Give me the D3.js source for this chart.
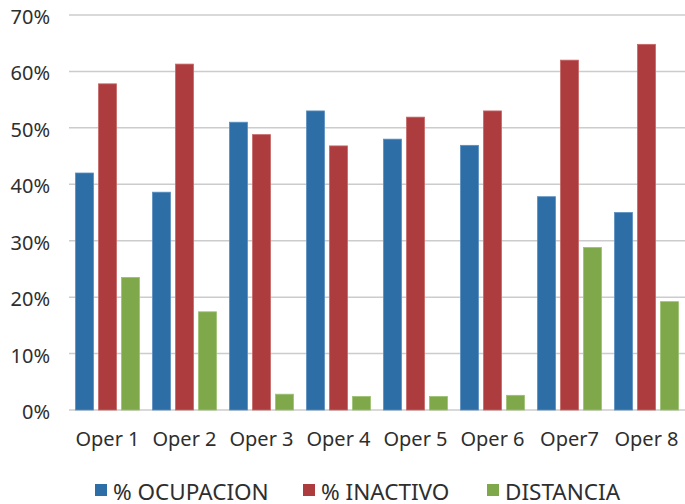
<!DOCTYPE html>
<html>
<head>
<meta charset="utf-8">
<script src="https://cdn.jsdelivr.net/npm/d3@7"></script>
<style>
  body { margin: 0; background: #fff; }
  text { font-family: "Noto Sans", sans-serif; fill: #2e2e2e; }
</style>
</head>
<body>
<div id="chart"></div>
<script>
const operators = ["Oper 1", "Oper 2", "Oper 3", "Oper 4", "Oper 5", "Oper 6", "Oper7", "Oper 8"];
const seriesNames = ["% OCUPACION", "% INACTIVO", "DISTANCIA"];
const ocupacion = [0.42, 0.386, 0.51, 0.53, 0.48, 0.469, 0.378, 0.35];
const inactivo = [0.578, 0.613, 0.488, 0.468, 0.519, 0.53, 0.62, 0.648];
const distancia = [0.235, 0.174, 0.028, 0.024, 0.024, 0.026, 0.288, 0.192];
const yTicks = [0, 0.1, 0.2, 0.3, 0.4, 0.5, 0.6, 0.7];
const colors = ["#2d6ea7", "#ad3c3e", "#7fa84b"];
const strokes = ["#5b8fc0", "#c76668", "#9cc072"];

const width = 685;
const height = 504;
const margin = { top: 15, right: 0, bottom: 94, left: 69 };

const svg = d3.select("#chart")
  .append("svg")
  .attr("width", width)
  .attr("height", height);

const values = [ocupacion, inactivo, distancia];
const rows = operators.map((op, i) => ({
  op: op,
  vals: values.map((arr, s) => ({ key: seriesNames[s], s: s, v: arr[i] }))
}));

const x0 = d3.scaleBand()
  .domain(operators)
  .range([margin.left, width - margin.right])
  .padding(0);

const groupPad = 6.5;
const x1 = d3.scaleBand()
  .domain(d3.range(3))
  .range([groupPad, x0.bandwidth() - groupPad])
  .paddingInner(5 / 23);

const y = d3.scaleLinear()
  .domain([0, 0.7])
  .range([height - margin.bottom, margin.top]);

// gridlines
svg.append("g")
  .selectAll("line")
  .data(yTicks)
  .join("line")
  .attr("x1", margin.left)
  .attr("x2", width - margin.right)
  .attr("y1", d => y(d))
  .attr("y2", d => y(d))
  .attr("stroke", "#cccccc")
  .attr("stroke-width", 1.5);

// y labels
svg.append("g")
  .selectAll("text")
  .data(yTicks)
  .join("text")
  .attr("x", 50)
  .attr("y", d => y(d) + 2)
  .attr("dy", "0.35em")
  .attr("text-anchor", "end")
  .style("font-size", "20px")
  .text(d => d3.format(".0%")(d));

// bars
svg.append("g")
  .selectAll("g")
  .data(rows)
  .join("g")
  .attr("transform", d => `translate(${x0(d.op)},0)`)
  .selectAll("rect")
  .data(d => d.vals)
  .join("rect")
  .attr("x", d => x1(d.s))
  .attr("width", x1.bandwidth())
  .attr("y", d => y(d.v))
  .attr("height", d => y(0) - y(d.v))
  .attr("fill", d => colors[d.s])
  .attr("stroke", d => strokes[d.s])
  .attr("stroke-width", 0.8);

// x labels
svg.append("g")
  .selectAll("text")
  .data(operators)
  .join("text")
  .attr("x", d => x0(d) + x0.bandwidth() / 2)
  .attr("y", 446)
  .attr("text-anchor", "middle")
  .style("font-size", "20px")
  .text(d => d);

// legend
const legendX = [95, 303, 487];
const legend = svg.append("g")
  .selectAll("g")
  .data(seriesNames)
  .join("g")
  .attr("transform", (d, i) => `translate(${legendX[i]},0)`);

legend.append("rect")
  .attr("x", 0)
  .attr("y", 484)
  .attr("width", 12)
  .attr("height", 12)
  .attr("fill", (d, i) => colors[i]);

legend.append("text")
  .attr("x", 18)
  .attr("y", 499.5)
  .style("font-size", "22.5px")
  .text(d => d);
</script>
</body>
</html>
